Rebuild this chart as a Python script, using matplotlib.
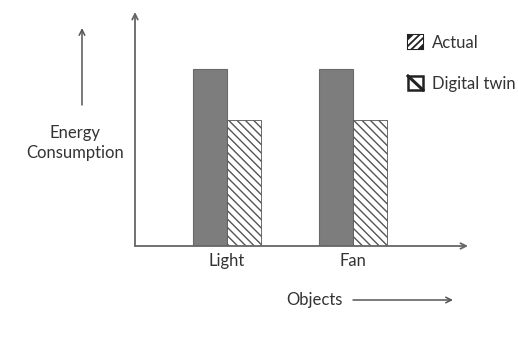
import matplotlib.pyplot as plt
from matplotlib.patches import Rectangle
from matplotlib.lines import Line2D
import numpy as np

plt.rcParams['font.family'] = ['Lato', 'DejaVu Sans']
plt.rcParams['hatch.linewidth'] = 1.0
plt.rcParams['hatch.color'] = '#3a3a3a'

objetos = ["Light", "Fan"]
actual = [10.0, 10.0]
gemelo = [7.1, 7.1]
series = ["Actual", "Digital twin"]

W, H = 518, 338
fig = plt.figure(figsize=(W / 100, H / 100), dpi=100)

def fx(px):
    return px / W

def fy(py):
    return 1 - py / H

# ejes principales (en pixeles del original)
x0, x1, ytop, ybot = 135, 468, 12, 246
ax = fig.add_axes([fx(x0), fy(ybot), fx(x1) - fx(x0), fy(ytop) - fy(ybot)])

x = np.arange(len(objetos))
ancho = 0.27
ax.bar(x - ancho / 2, actual, ancho, color='#7d7d7d', edgecolor='#6a6a6a', linewidth=0.8)
ax.bar(x + ancho / 2, gemelo, ancho, color='white', edgecolor='#555555',
       linewidth=0.6, hatch='\\\\\\\\')

ax.set_xlim(-92 / 126, 1 + 115 / 126)
ax.set_ylim(0, 10 * 234 / 177)
ax.set_xticks(x)
ax.set_xticklabels(objetos, fontsize=12, color='#333333')
ax.tick_params(axis='x', length=0, pad=5)
ax.set_yticks([])
for s in ['top', 'right', 'left', 'bottom']:
    ax.spines[s].set_visible(False)

# ejes con flechas
gris = '#666666'
ax.annotate('', xy=(0, 1), xytext=(0, 0), xycoords='axes fraction',
            arrowprops=dict(arrowstyle='->', color=gris, lw=1.3, shrinkA=0, shrinkB=0))
ax.annotate('', xy=(1, 0), xytext=(0, 0), xycoords='axes fraction',
            arrowprops=dict(arrowstyle='->', color=gris, lw=1.3, shrinkA=0, shrinkB=0))

# etiqueta eje y con flecha
fig.text(fx(75), fy(143), "Energy\nConsumption", ha='center', va='center',
         fontsize=12, color='#333333', linespacing=1.3)
fig.add_artist(plt.Annotation('', xy=(fx(82), fy(28)), xytext=(fx(82), fy(105)),
                              xycoords='figure fraction', textcoords='figure fraction',
                              arrowprops=dict(arrowstyle='->', color='#555555', lw=1.1,
                                              shrinkA=0, shrinkB=0)))

# etiqueta eje x con flecha
fig.text(fx(314), fy(300), "Objects", ha='center', va='center', fontsize=12, color='#333333')
fig.add_artist(plt.Annotation('', xy=(fx(453), fy(300)), xytext=(fx(353), fy(300)),
                              xycoords='figure fraction', textcoords='figure fraction',
                              arrowprops=dict(arrowstyle='->', color='#555555', lw=1.1,
                                              shrinkA=0, shrinkB=0)))

# leyenda manual
r1 = Rectangle((fx(408), fy(49)), fx(15), fy(35) - fy(49), transform=fig.transFigure,
               facecolor='#222222', edgecolor='#222222', linewidth=1.5)
fig.add_artist(r1)
for d in [-7, 0, 7]:
    ln = Line2D([fx(408 + d - 8), fx(423 + d + 8)], [fy(49 + 8), fy(35 - 8)],
                transform=fig.transFigure, color='white', linewidth=2.2)
    ln.set_clip_path(r1)
    fig.add_artist(ln)
fig.text(fx(432), fy(43), series[0], ha='left', va='center', fontsize=12, color='#333333')

r2 = Rectangle((fx(408), fy(90)), fx(15), fy(76) - fy(90), transform=fig.transFigure,
               facecolor='white', edgecolor='#222222', linewidth=1.8)
fig.add_artist(r2)
fig.add_artist(Line2D([fx(408), fx(423)], [fy(76), fy(90)], transform=fig.transFigure,
                      color='#222222', linewidth=2.2))
fig.text(fx(432), fy(84), series[1], ha='left', va='center', fontsize=12, color='#333333')

fig.savefig('out.png', dpi=100)
